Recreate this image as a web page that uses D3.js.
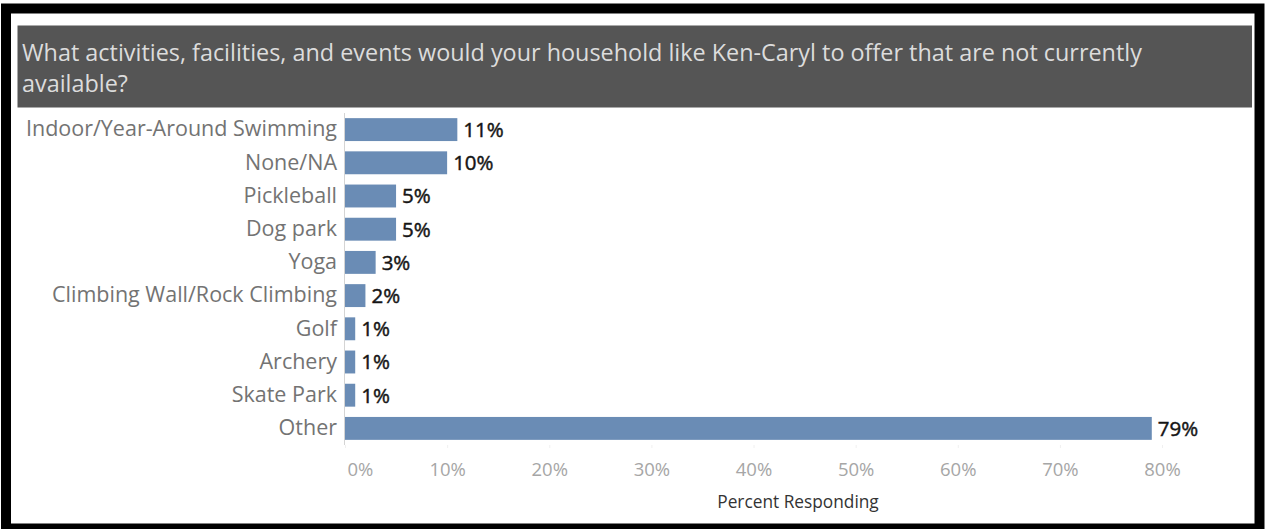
<!DOCTYPE html>
<html>
<head>
<meta charset="utf-8">
<script src="https://cdn.jsdelivr.net/npm/d3@7"></script>
<style>
  html, body { margin: 0; padding: 0; background: #fff; }
  svg { display: block; }
</style>
</head>
<body>
<script>
// Survey responses: desired activities not currently offered
const categories = [
  "Indoor/Year-Around Swimming",
  "None/NA",
  "Pickleball",
  "Dog park",
  "Yoga",
  "Climbing Wall/Rock Climbing",
  "Golf",
  "Archery",
  "Skate Park",
  "Other"
];
const percents = [11, 10, 5, 5, 3, 2, 1, 1, 1, 79];
const tickValues = [0, 10, 20, 30, 40, 50, 60, 70, 80];
const titleLines = [
  "What activities, facilities, and events would your household like Ken-Caryl to offer that are not currently",
  "available?"
];
const axisTitle = "Percent Responding";

const W = 1265, H = 529;
const FONT = "'Open Sans', 'Noto Sans', sans-serif";

const svg = d3.select("body").append("svg")
  .attr("width", W).attr("height", H);

// outer frame
svg.append("rect").attr("x", 0).attr("y", 0).attr("width", W).attr("height", H).attr("fill", "#fff");
svg.append("rect").attr("x", 6).attr("y", 8.5).attr("width", 1253.5).attr("height", 520)
  .attr("fill", "none").attr("stroke", "#000").attr("stroke-width", 10);

// title banner
svg.append("rect").attr("x", 17.5).attr("y", 25.5).attr("width", 1234.5).attr("height", 82)
  .attr("fill", "#555555");
svg.append("g").selectAll("text").data(titleLines).join("text")
  .attr("x", 22)
  .attr("y", (d, i) => 61 + i * 31)
  .attr("fill", "#dcdcdc")
  .attr("font-family", FONT)
  .attr("font-size", 23.4)
  .text(d => d);

// scales
const x = d3.scaleLinear().domain([0, 80]).range([345, 1162]);
const y = d3.scaleBand().domain(categories).range([113, 445])
  .paddingInner(0.31).paddingOuter(0.155);

const data = categories.map((c, i) => ({ cat: c, val: percents[i] }));

// bars
svg.append("g").selectAll("rect").data(data).join("rect")
  .attr("x", x(0))
  .attr("y", d => y(d.cat))
  .attr("width", d => x(d.val) - x(0))
  .attr("height", y.bandwidth())
  .attr("fill", "#6a8cb5");

// value labels (medium weight via a thin same-colour stroke)
svg.append("g").selectAll("text").data(data).join("text")
  .attr("x", d => x(d.val) + 6)
  .attr("y", d => y(d.cat) + y.bandwidth() / 2)
  .attr("dy", "0.36em")
  .attr("fill", "#151515")
  .attr("stroke", "#151515")
  .attr("stroke-width", 0.45)
  .attr("font-family", FONT)
  .attr("font-size", 20.5)
  .text(d => d.val + "%");

// category axis
const yAxis = svg.append("g")
  .attr("transform", `translate(${x(0) - 0.5},0)`)
  .call(d3.axisLeft(y).tickSize(0).tickPadding(7.5));
yAxis.select(".domain").attr("stroke", "#d4d4d4").attr("d", "M0,113V445");
yAxis.selectAll("text")
  .attr("fill", "#737373")
  .attr("font-family", FONT)
  .attr("font-size", 21.5);

// value axis
const xAxis = svg.append("g")
  .attr("transform", "translate(0,445)")
  .call(d3.axisBottom(x).tickValues(tickValues).tickSize(3).tickPadding(15)
    .tickFormat(d => d + "%"));
xAxis.select(".domain").remove();
xAxis.selectAll("line").attr("stroke", "#f0f0f0");
xAxis.selectAll("text")
  .attr("fill", "#a6a6a6")
  .attr("font-family", FONT)
  .attr("font-size", 18.5)
  .attr("text-anchor", d => d === 0 ? "start" : "middle")
  .attr("dx", d => d === 0 ? 2 : 0);

svg.append("text")
  .attr("x", 798).attr("y", 508)
  .attr("text-anchor", "middle")
  .attr("fill", "#333")
  .attr("font-family", FONT)
  .attr("font-size", 17.3)
  .text(axisTitle);
</script>
</body>
</html>
